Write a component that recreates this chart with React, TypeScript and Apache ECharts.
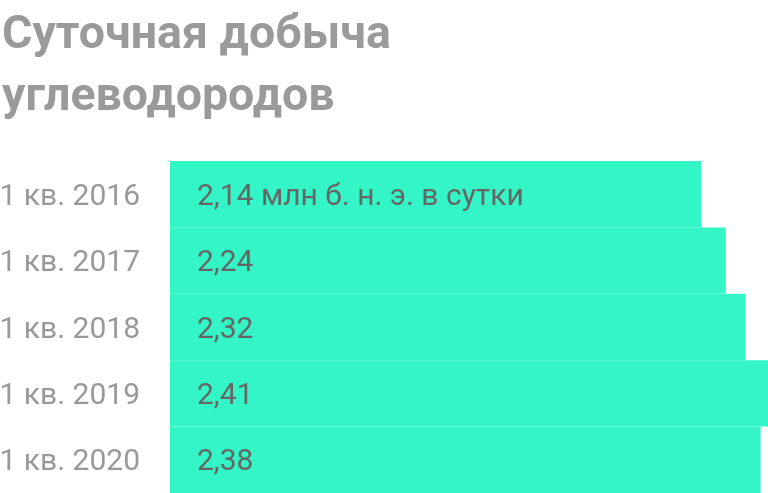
import React, { useEffect, useRef } from 'react';
import * as echarts from 'echarts';

const categories = ['1 кв. 2016', '1 кв. 2017', '1 кв. 2018', '1 кв. 2019', '1 кв. 2020'];
const values = [2.14, 2.24, 2.32, 2.41, 2.38];
const unit = ' млн б. н. э. в сутки';
const title = 'Суточная добыча\nуглеводородов';

const App: React.FC = () => {
  const chartRef = useRef<HTMLDivElement>(null);

  useEffect(() => {
    if (!chartRef.current) return;
    const chart = echarts.init(chartRef.current, undefined, { renderer: 'svg' });

    chart.setOption({
      animation: false,
      title: {
        text: title,
        left: 2,
        top: 1,
        padding: 0,
        textStyle: {
          fontFamily: 'Roboto',
          fontWeight: 'bold',
          fontSize: 46.5,
          lineHeight: 62,
          color: '#9a9a9a',
        },
      },
      grid: { left: 170, right: 0, top: 161, bottom: 0, outerBoundsMode: 'none', containLabel: false },
      xAxis: {
        type: 'value',
        min: 0,
        max: 2.41,
        show: false,
      },
      yAxis: {
        type: 'category',
        data: categories,
        inverse: true,
        axisLine: { show: false },
        axisTick: { show: false },
        axisLabel: {
          margin: 30,
          fontFamily: 'Roboto',
          fontSize: 30,
          color: '#999999',
        },
      },
      series: [
        {
          type: 'bar',
          data: values,
          barCategoryGap: 0,
          itemStyle: { color: '#33f5c6' },
          label: {
            show: true,
            position: 'insideLeft',
            distance: 27,
            fontFamily: 'Roboto',
            fontSize: 30,
            color: '#666666',
            formatter: (p: any) =>
              p.value.toFixed(2).replace('.', ',') + (p.dataIndex === 0 ? unit : ''),
          },
        },
      ],
    });

    return () => chart.dispose();
  }, []);

  return (
    <div
      ref={chartRef}
      style={{ position: 'fixed', left: 0, top: 0, width: '768px', height: '493px' }}
    ></div>
  );
};

export default App;
